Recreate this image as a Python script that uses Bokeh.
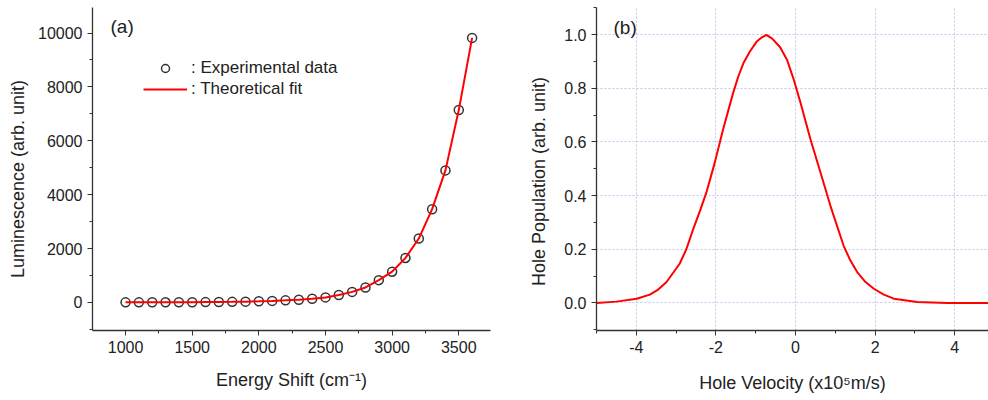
from bokeh.plotting import figure
from bokeh.layouts import row
from bokeh.models import Range1d, Legend, LegendItem, Label, SingleIntervalTicker, NumeralTickFormatter
from bokeh.embed import file_html
from bokeh.resources import INLINE

# ---- panel (a) data ----
energy_shift = [1000, 1100, 1200, 1300, 1400, 1500, 1600, 1700, 1800, 1900,
                2000, 2100, 2200, 2300, 2400, 2500, 2600, 2700, 2800, 2900,
                3000, 3100, 3200, 3300, 3400, 3500, 3600]
luminescence = [1, 1.5, 2, 3, 5, 7, 10, 14, 20, 28,
                40, 55, 75, 100, 135, 185, 275, 390, 555, 825,
                1140, 1650, 2370, 3460, 4900, 7140, 9820]

# ---- panel (b) data ----
hole_velocity = [-5.0, -4.5, -3.99, -3.66, -3.45, -3.24, -2.91, -2.74, -2.57, -2.40,
                 -2.24, -2.03, -1.82, -1.57, -1.44, -1.31, -1.15, -0.98, -0.854, -0.73,
                 -0.585, -0.39, -0.21, -0.04, 0.13, 0.38, 0.63, 0.88, 1.21, 1.38,
                 1.55, 1.76, 1.97, 2.22, 2.47, 3.06, 3.81, 4.5, 5.0]
hole_population = [0.0, 0.005, 0.016, 0.031, 0.05, 0.078, 0.146, 0.201, 0.275, 0.343,
                   0.411, 0.522, 0.646, 0.781, 0.843, 0.893, 0.936, 0.973, 0.989, 0.999,
                   0.985, 0.954, 0.905, 0.831, 0.744, 0.608, 0.485, 0.361, 0.213, 0.158,
                   0.115, 0.078, 0.053, 0.031, 0.016, 0.004, 0.0, 0.0, 0.0]

FONT = "Liberation Sans"
AXC = "#333333"
TXC = "#222222"


def style_axes(p):
    for ax in (p.xaxis, p.yaxis):
        ax.axis_line_color = AXC
        ax.axis_line_width = 1.3
        ax.major_tick_line_color = AXC
        ax.minor_tick_line_color = AXC
        ax.major_tick_out = 5
        ax.major_tick_in = 0
        ax.minor_tick_out = 3
        ax.minor_tick_in = 0
        ax.major_label_text_font = FONT
        ax.major_label_text_font_size = "16px"
        ax.major_label_text_color = TXC
        ax.axis_label_text_font = FONT
        ax.axis_label_text_font_size = "18px"
        ax.axis_label_text_font_style = "normal"
        ax.axis_label_text_color = TXC
        ax.major_label_standoff = 5


NB = "\u00a0"

# ---------------- panel (a) ----------------
fa = figure(width=500, height=400, output_backend="svg", toolbar_location=None,
            x_range=Range1d(752, 3738), y_range=Range1d(-1044, 10948),
            min_border_left=92, min_border_right=10, min_border_top=5, min_border_bottom=70)
fa.outline_line_color = None
fa.grid.visible = False
fa.xaxis.ticker = SingleIntervalTicker(interval=500, num_minor_ticks=2)
fa.yaxis.ticker = SingleIntervalTicker(interval=2000, num_minor_ticks=2)
fa.xaxis.axis_label = "Energy Shift (cm\u207b\u00b9)"
fa.yaxis.axis_label = "Luminescence (arb. unit)" + NB * 4
style_axes(fa)
fa.xaxis.axis_label_standoff = 14
fa.yaxis.axis_label_standoff = 7

rc = fa.scatter(energy_shift, luminescence, marker="circle", size=9, fill_color=None,
                line_color="#333333", line_width=1.5)
rl = fa.line(energy_shift, luminescence, line_color="#ff0000", line_width=2)

legend = Legend(items=[LegendItem(label=": Experimental data", renderers=[rc]),
                       LegendItem(label=": Theoretical fit", renderers=[rl])],
                location=(51, 231), glyph_width=44, glyph_height=20, label_height=20,
                label_standoff=4, padding=0, spacing=1, margin=0,
                border_line_color=None, background_fill_alpha=0,
                label_text_font=FONT, label_text_font_size="17px", label_text_color=TXC)
fa.add_layout(legend)
fa.add_layout(Label(x=18, y=304, x_units="screen", y_units="screen", text="(a)",
                    text_baseline="middle", text_font=FONT, text_font_size="19px",
                    text_color=TXC))

# ---------------- panel (b) ----------------
fb = figure(width=488, height=400, output_backend="svg", toolbar_location=None,
            x_range=Range1d(-5, 4.85), y_range=Range1d(-0.1026, 1.101),
            min_border_left=96, min_border_right=0, min_border_top=7, min_border_bottom=68)
fb.outline_line_color = None
fb.xaxis.ticker = SingleIntervalTicker(interval=2, num_minor_ticks=2)
fb.yaxis.ticker = SingleIntervalTicker(interval=0.2, num_minor_ticks=2)
fb.xaxis.formatter = NumeralTickFormatter(format="0")
fb.yaxis.formatter = NumeralTickFormatter(format="0.0")
fb.xaxis.axis_label = "Hole Velocity (x10\u2075m/s)"
fb.yaxis.axis_label = "Hole Population (arb. unit)" + NB * 5
style_axes(fb)
fb.xaxis.axis_label_standoff = 17
fb.yaxis.axis_label_standoff = 12
fb.grid.grid_line_color = "#c4c4ee"
fb.grid.grid_line_dash = "2 2"
fb.grid.grid_line_width = 1

fb.line(hole_velocity, hole_population, line_color="#ff0000", line_width=2)
fb.add_layout(Label(x=17, y=303, x_units="screen", y_units="screen", text="(b)",
                    text_baseline="middle", text_font=FONT, text_font_size="19px",
                    text_color=TXC))

layout = row(fa, fb)
open("out.html", "w").write(file_html(layout, INLINE))
